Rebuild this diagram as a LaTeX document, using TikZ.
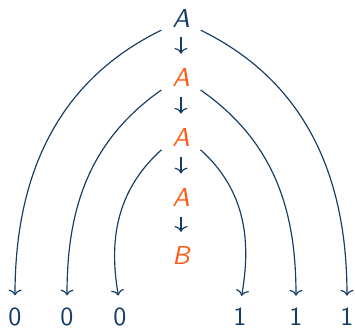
\documentclass[tikz,border=0pt]{standalone}
\usepackage{tikz}
\usetikzlibrary{positioning}
\usetikzlibrary{arrows.meta}
\definecolor{navy}{RGB}{20,60,100}
\definecolor{hiorange}{RGB}{255,90,20}

\begin{document}
\begin{tikzpicture}[x=0.0135cm, y=0.0135cm, font=\sffamily,
    sym/.style={inner xsep=4pt, inner ysep=1pt, font=\sffamily\itshape},
    bit/.style={inner sep=1pt, text=navy},
    link/.style={navy, line width=0.45pt, -{Computer Modern Rightarrow[width=5pt,length=2.2pt]}},
    chainarr/.style={shorten <=2.8pt, shorten >=4.6pt},
    arcarr/.style={shorten >=3.6pt}]
    \useasboundingbox (0,0) rectangle (355,329);

    % the chain of letters
    \node[sym, text=navy] (a1) at (181,311) {A};
    \node[sym, text=hiorange, below=0.48cm of a1] (a2) {A};
    \node[sym, text=hiorange, below=0.48cm of a2] (a3) {A};
    \node[sym, text=hiorange, below=0.48cm of a3] (a4) {A};
    \node[sym, text=hiorange, below=0.46cm of a4] (b) {B};

    % the bits
    \node[bit] (z1) at (15,12) {0};
    \node[bit] (z2) at (67,12) {0};
    \node[bit] (z3) at (120,12) {0};
    \node[bit] (o1) at (240,12) {1};
    \node[bit] (o2) at (296,12) {1};
    \node[bit] (o3) at (347,12) {1};

    \draw[link, chainarr] (a1) -- (a2);
    \draw[link, chainarr] (a2) -- (a3);
    \draw[link, chainarr] (a3) -- (a4);
    \draw[link, chainarr] (a4) -- (b);

    \draw[link, arcarr] (a1.south west) to[out=206, in=90] (z1.north);
    \draw[link, arcarr] (a2.south west) to[out=215, in=90] (z2.north);
    \draw[link, arcarr] (a3.south west) to[out=222, in=100] (z3.north);
    \draw[link, arcarr] (a1.south east) to[out=-26, in=90] (o3.north);
    \draw[link, arcarr] (a2.south east) to[out=-35, in=90] (o2.north);
    \draw[link, arcarr] (a3.south east) to[out=-42, in=80] (o1.north);
\end{tikzpicture}
\end{document}
